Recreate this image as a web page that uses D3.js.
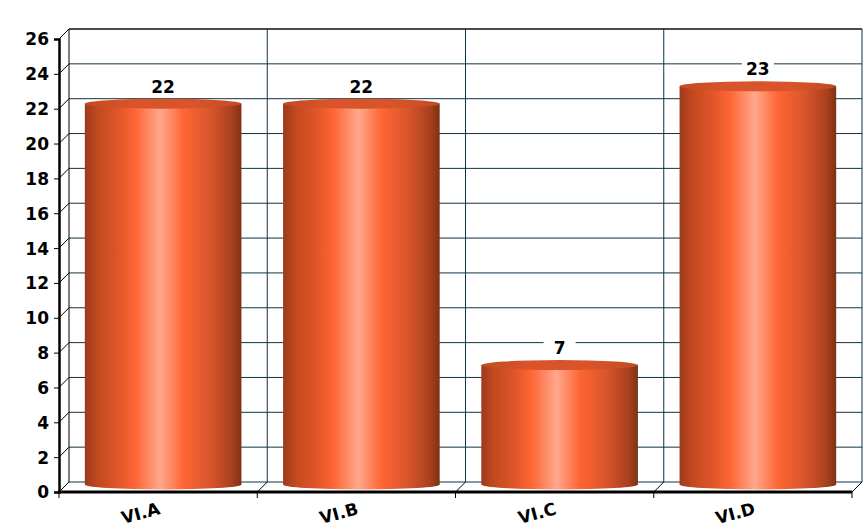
<!DOCTYPE html>
<html lang="en">
<head>
<meta charset="utf-8">
<title>Cylinder chart</title>
<script src="https://cdn.jsdelivr.net/npm/d3@7"></script>
<style>
    body { margin: 0; background: #fff; }
    text { font-family: "Comic Sans MS", "DejaVu Sans", sans-serif; fill: #000; }
</style>
</head>
<body>
<div id="chart"></div>
<script type="text/javascript">
var categories = ["VI.A", "VI.B", "VI.C", "VI.D"];
var values = [22, 22, 7, 23];
var yTicks = d3.range(0, 27, 2);

var width = 864, height = 530;
var depth = 10;          // 3d offset of the back wall
var leftX = 59, rightX = 852, bottomY = 492, topY = 39;

var svg = d3.select("#chart").append("svg")
    .attr("width", width)
    .attr("height", height);

var x = d3.scaleBand().domain(categories).range([leftX, rightX]);
var y = d3.scaleLinear().domain([0, 26]).range([bottomY, topY]);

var grid = "#0f3345";

// gradients for the cylinders
var defs = svg.append("defs");
var body = defs.append("linearGradient").attr("id", "cylBody");
[[0, "#9c3a1c"], [0.08, "#c2491f"], [0.22, "#e2562a"], [0.32, "#ff6534"], [0.48, "#ffa88c"],
 [0.63, "#ff6534"], [0.8, "#d8552d"], [0.94, "#a8401c"], [1, "#7e3116"]].forEach(function(s) {
    body.append("stop").attr("offset", s[0]).attr("stop-color", s[1]);
});
var cap = defs.append("linearGradient").attr("id", "cylTop");
[[0, "#c24a22"], [0.3, "#d9542a"], [0.7, "#d9542a"], [1, "#c24a22"]].forEach(function(s) {
    cap.append("stop").attr("offset", s[0]).attr("stop-color", s[1]);
});

// back wall
var wall = svg.append("g");
wall.selectAll("line.h")
    .data(yTicks)
    .enter().append("line")
    .attr("x1", leftX + depth).attr("x2", rightX + depth)
    .attr("y1", function(d) { return y(d) - depth; })
    .attr("y2", function(d) { return y(d) - depth; })
    .attr("stroke", grid).attr("stroke-width", 1);

wall.selectAll("line.v")
    .data(categories.slice(1).concat(["end"]))
    .enter().append("line")
    .attr("x1", function(d) { return (d === "end" ? rightX : x(d)) + depth; })
    .attr("x2", function(d) { return (d === "end" ? rightX : x(d)) + depth; })
    .attr("y1", y(26) - depth).attr("y2", y(0) - depth)
    .attr("stroke", grid);

wall.append("line")
    .attr("x1", leftX + depth).attr("x2", leftX + depth)
    .attr("y1", y(26) - depth).attr("y2", y(0) - depth)
    .attr("stroke", "#000");
wall.append("line")
    .attr("x1", leftX + depth).attr("x2", rightX + depth)
    .attr("y1", y(26) - depth).attr("y2", y(26) - depth)
    .attr("stroke", "#000");

// side wall diagonals
wall.selectAll("line.d")
    .data(yTicks)
    .enter().append("line")
    .attr("x1", leftX).attr("x2", leftX + depth)
    .attr("y1", function(d) { return y(d); })
    .attr("y2", function(d) { return y(d) - depth; })
    .attr("stroke", "#000");

// floor diagonals
wall.selectAll("line.f")
    .data(categories.concat(["end"]))
    .enter().append("line")
    .attr("x1", function(d) { return d === "end" ? rightX : x(d); })
    .attr("x2", function(d) { return (d === "end" ? rightX : x(d)) + depth; })
    .attr("y1", y(0)).attr("y2", y(0) - depth)
    .attr("stroke", "#000");

// cylinders
var cw = x.bandwidth() * 0.79;
var ry = 5;
var bars = svg.append("g").selectAll("g")
    .data(values)
    .enter().append("g");

function cx(i) { return x(categories[i]) + x.bandwidth() / 2 + depth / 2; }

bars.append("rect")
    .attr("x", function(d, i) { return cx(i) - cw / 2; })
    .attr("width", cw)
    .attr("y", function(d) { return y(d) - depth / 2; })
    .attr("height", function(d) { return y(0) - y(d) - ry / 2; })
    .attr("fill", "url(#cylBody)");

bars.append("ellipse")
    .attr("cx", function(d, i) { return cx(i); })
    .attr("cy", y(0) - depth / 2 - ry / 2)
    .attr("rx", cw / 2).attr("ry", ry)
    .attr("fill", "url(#cylBody)");

bars.append("ellipse")
    .attr("cx", function(d, i) { return cx(i); })
    .attr("cy", function(d) { return y(d) - depth / 2; })
    .attr("rx", cw / 2).attr("ry", ry)
    .attr("fill", "url(#cylTop)");

// value labels
bars.append("rect")
    .attr("x", function(d, i) { return cx(i) - 16; })
    .attr("y", function(d) { return y(d) - depth / 2 - ry - 22; })
    .attr("width", 32).attr("height", 20)
    .attr("fill", "#fff");

bars.append("text")
    .attr("x", function(d, i) { return cx(i); })
    .attr("y", function(d) { return y(d) - depth / 2 - ry - 6; })
    .attr("text-anchor", "middle")
    .style("font-size", "17px")
    .style("font-weight", "bold")
    .text(function(d) { return d; });

// front axes
var yAxis = svg.append("g")
    .attr("transform", "translate(" + leftX + ",0)")
    .call(d3.axisLeft(y).tickValues(yTicks).tickSize(5).tickPadding(5).tickFormat(d3.format("d")));
yAxis.select(".domain").attr("stroke", "#000").attr("stroke-width", 2.5);
yAxis.selectAll("text").style("font-size", "17px").style("font-weight", "bold").attr("dy", "0.35em");

svg.append("line")
    .attr("x1", leftX - 1).attr("x2", rightX)
    .attr("y1", bottomY).attr("y2", bottomY)
    .attr("stroke", "#000").attr("stroke-width", 3);

svg.append("g").selectAll("line")
    .data(categories.concat(["end"]))
    .enter().append("line")
    .attr("x1", function(d) { return d === "end" ? rightX : x(d); })
    .attr("x2", function(d) { return d === "end" ? rightX : x(d); })
    .attr("y1", bottomY).attr("y2", bottomY + 6)
    .attr("stroke", "#000");

svg.append("g").selectAll("text")
    .data(categories)
    .enter().append("text")
    .attr("transform", function(d) {
        return "translate(" + (x(d) + x.bandwidth() / 2 - 16) + "," + (bottomY + 27) + ") rotate(-15)";
    })
    .attr("text-anchor", "middle")
    .style("font-size", "17px")
    .style("font-weight", "bold")
    .text(function(d) { return d; });
</script>
</body>
</html>
